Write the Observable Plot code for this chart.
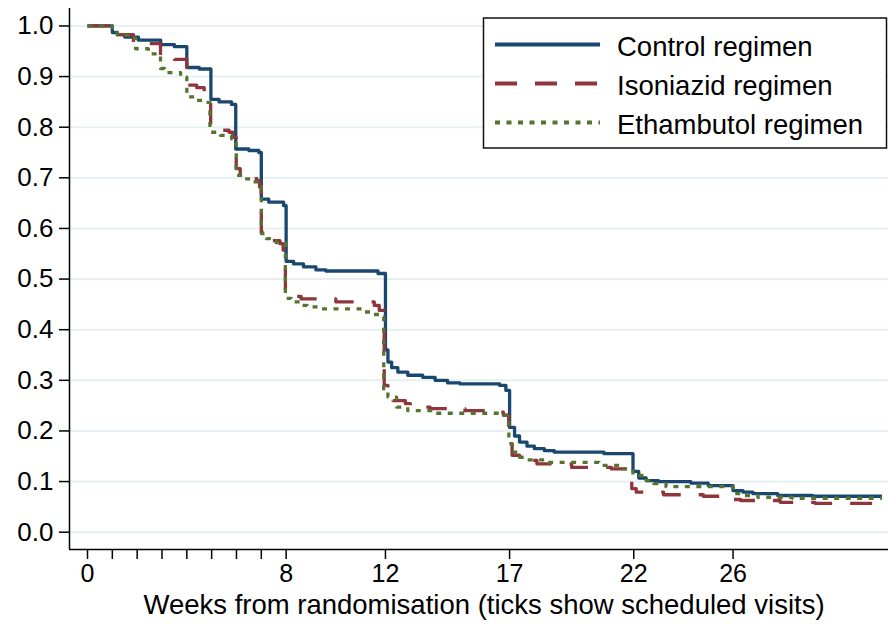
<!DOCTYPE html>
<html><head><meta charset="utf-8">
<script src="https://cdn.jsdelivr.net/npm/d3@7"></script>
<script src="https://cdn.jsdelivr.net/npm/@observablehq/plot@0.6"></script>
<style>
html,body{margin:0;padding:0;background:#fff;}
#chart{position:relative;width:888px;height:624px;overflow:hidden;}
#chart svg{font-family:"Liberation Sans",Arial,sans-serif;}
</style></head><body><div id="chart"></div>
<script>
const seriesNames = ["Control regimen", "Isoniazid regimen", "Ethambutol regimen"];
const seriesColors = ["#1a476f", "#90353b", "#55752f"];

const controlWeeks = [0, 1.0, 1.2, 1.5, 2.05, 2.95, 3.5, 4.0, 4.5, 4.97, 5.3, 5.8, 5.97, 6.5, 6.9, 7.0, 7.3, 7.9, 8.0, 8.3, 8.7, 9.2, 9.6, 11.7, 12.0, 12.1, 12.25, 12.5, 12.9, 13.5, 14.0, 14.5, 15.0, 16.6, 16.85, 17.0, 17.2, 17.4, 17.7, 18.0, 18.4, 18.8, 20.8, 21.97, 22.2, 22.5, 23.0, 24.3, 25.0, 26.0, 26.4, 26.8, 27.8, 29.2, 32.0];
const controlSurv = [1.0, 0.987, 0.983, 0.978, 0.972, 0.963, 0.959, 0.918, 0.915, 0.855, 0.85, 0.845, 0.757, 0.754, 0.75, 0.658, 0.652, 0.645, 0.535, 0.53, 0.524, 0.518, 0.516, 0.511, 0.36, 0.336, 0.325, 0.316, 0.31, 0.306, 0.3, 0.295, 0.293, 0.29, 0.28, 0.207, 0.19, 0.178, 0.17, 0.165, 0.161, 0.158, 0.155, 0.12, 0.107, 0.102, 0.1, 0.097, 0.092, 0.082, 0.079, 0.076, 0.0725, 0.071, 0.071];

const isoniazidWeeks = [0, 1.0, 1.2, 1.85, 2.94, 3.5, 4.0, 4.4, 4.7, 4.85, 4.96, 5.3, 5.7, 5.85, 5.99, 6.15, 6.5, 6.8, 6.93, 7.0, 7.15, 7.4, 7.75, 7.88, 7.97, 8.2, 8.6, 10.0, 11.55, 11.75, 11.95, 12.1, 12.3, 12.8, 13.0, 13.8, 15.2, 16.5, 16.75, 16.96, 17.1, 17.4, 17.7, 18.1, 19.5, 21.1, 21.75, 21.92, 22.1, 23.2, 24.8, 26.0, 26.3, 27.9, 29.3, 32.0];
const isoniazidSurv = [1.0, 0.987, 0.983, 0.965, 0.936, 0.934, 0.883, 0.878, 0.87, 0.863, 0.803, 0.794, 0.79, 0.78, 0.718, 0.708, 0.703, 0.695, 0.682, 0.593, 0.583, 0.576, 0.57, 0.557, 0.478, 0.466, 0.461, 0.455, 0.448, 0.438, 0.29, 0.275, 0.26, 0.254, 0.247, 0.244, 0.24, 0.237, 0.231, 0.175, 0.152, 0.145, 0.142, 0.135, 0.128, 0.125, 0.119, 0.086, 0.079, 0.074, 0.071, 0.0646, 0.0626, 0.059, 0.057, 0.057];

const ethambutolWeeks = [0, 1.0, 1.2, 1.7, 1.94, 2.45, 2.94, 3.1, 3.75, 4.0, 4.3, 4.75, 4.93, 5.35, 5.8, 5.99, 6.3, 6.65, 6.93, 7.0, 7.2, 7.6, 7.97, 8.2, 8.55, 8.85, 9.4, 11.05, 11.4, 11.8, 11.93, 12.1, 12.45, 12.9, 13.9, 16.6, 16.97, 17.1, 17.4, 17.7, 18.5, 20.6, 21.6, 21.97, 22.4, 22.8, 23.3, 26.0, 26.4, 27.0, 28.4, 32.0];
const ethambutolSurv = [1.0, 0.988, 0.982, 0.976, 0.955, 0.945, 0.916, 0.908, 0.899, 0.86, 0.853, 0.849, 0.79, 0.784, 0.777, 0.705, 0.698, 0.692, 0.682, 0.59, 0.58, 0.572, 0.462, 0.455, 0.448, 0.445, 0.441, 0.435, 0.43, 0.425, 0.28, 0.267, 0.247, 0.24, 0.235, 0.231, 0.175, 0.158, 0.148, 0.143, 0.138, 0.132, 0.125, 0.112, 0.102, 0.096, 0.09, 0.076, 0.0725, 0.069, 0.067, 0.067];

const xTicks = [0, 1, 2, 3, 4, 5, 6, 7, 8, 12, 17, 22, 26];
const xTickLabels = [0, 8, 12, 17, 22, 26];
const yTicks = [0, 0.1, 0.2, 0.3, 0.4, 0.5, 0.6, 0.7, 0.8, 0.9, 1.0];
const xLabel = "Weeks from randomisation (ticks show scheduled visits)";

const weeksList = [controlWeeks, isoniazidWeeks, ethambutolWeeks];
const survList = [controlSurv, isoniazidSurv, ethambutolSurv];
const dashes = [null, "22,18", "5,6.5"];

const rows = seriesNames.map((name, i) => weeksList[i].map((w, j) => ({series: name, week: w, surv: survList[i][j]})));

const xDom = [-0.725, 32.26];
const yDom = [-0.0342, 1.0345];
const minorTicks = xTicks.filter(d => !xTickLabels.includes(d));
const tickLen = 10 / 506; // tick length expressed in y units

const plot = Plot.plot({
  width: 888, height: 624,
  marginLeft: 69, marginRight: 0, marginTop: 8, marginBottom: 75,
  style: {fontFamily: '"Liberation Sans", Arial, sans-serif', fontSize: "26px", color: "#000", background: "#fff", overflow: "visible"},
  x: {domain: xDom},
  y: {domain: yDom},
  marks: [
    Plot.gridY(yTicks, {stroke: "#e6eff2", strokeOpacity: 1, strokeWidth: 2}),
    Plot.axisY(yTicks, {tickSize: 10, tickPadding: 6, tickFormat: d3.format(".1f"), label: null, fontSize: 26, strokeWidth: 1.5}),
    Plot.axisX(xTickLabels, {tickSize: 10, tickPadding: 5, tickFormat: d => String(d), label: null, fontSize: 25, strokeWidth: 1.5}),
    Plot.ruleX(minorTicks, {x: d => d, y1: yDom[0], y2: yDom[0] - tickLen, stroke: "#000", strokeWidth: 1.5, clip: false}),
    Plot.ruleX([xDom[0]], {stroke: "#000", strokeWidth: 1.5}),
    Plot.ruleY([yDom[0]], {stroke: "#000", strokeWidth: 1.5}),
    ...rows.map((r, i) => Plot.line(r, {x: "week", y: "surv", stroke: seriesColors[i], strokeWidth: 3.3, curve: "step-after", strokeDasharray: dashes[i] || undefined, strokeLinecap: "butt"})),
    Plot.text([xLabel], {frameAnchor: "bottom", dy: 64, dx: 5, fontSize: 27.5, fill: "#000"})
  ]
});

const svg = d3.select(plot);
const lg = svg.append("g").attr("text-anchor", "start");
lg.append("rect").attr("x", 483.5).attr("y", 18).attr("width", 403).attr("height", 130)
  .attr("fill", "#fff").attr("stroke", "#111").attr("stroke-width", 1.5);
const rowY = [44.5, 83.5, 122.5];
seriesNames.forEach((name, i) => {
  const ln = lg.append("line").attr("x1", 495).attr("x2", 600).attr("y1", rowY[i]).attr("y2", rowY[i])
    .attr("stroke", seriesColors[i]).attr("stroke-width", 4);
  if (dashes[i]) ln.attr("stroke-dasharray", dashes[i]);
  lg.append("text").attr("x", 617).attr("y", rowY[i] + 1.5).attr("dy", "0.35em")
    .attr("text-anchor", "start").attr("font-size", 27.5).attr("fill", "#000").text(name);
});

document.getElementById("chart").appendChild(plot);
</script></body></html>
